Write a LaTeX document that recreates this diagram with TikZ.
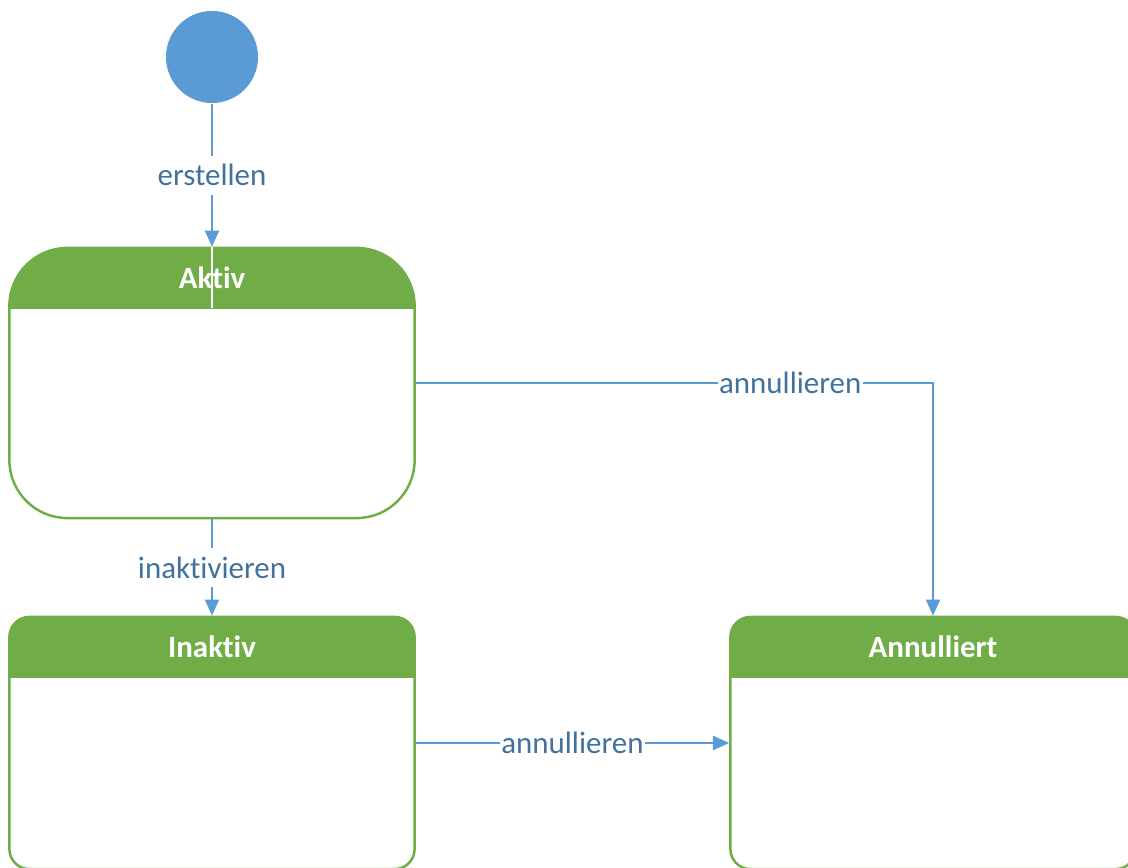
\documentclass[tikz,border=0pt]{standalone}
\usepackage{fontspec}
\setmainfont[Ligatures=NoCommon]{Carlito}
\usetikzlibrary{arrows.meta}
\definecolor{stgreen}{HTML}{70AD47}
\definecolor{lnblue}{HTML}{5B9BD5}
\definecolor{lbltext}{HTML}{41719C}
\tikzset{
  statebox/.style={draw=stgreen, line width=0.7pt, rounded corners=#1,
    minimum width=4.05cm, minimum height=2.7cm, inner sep=0pt,
    path picture={\fill[stgreen, sharp corners] (path picture bounding box.north west)
      rectangle ([yshift=-0.61cm]path picture bounding box.north east);}},
  headtext/.style={text=white, font=\fontsize{8.8}{10.5}\selectfont\bfseries},
  trans/.style={draw=lnblue, line width=0.6pt, -{Triangle[width=4pt,length=4.6pt]}},
  lbl/.style={fill=white, text=lbltext, inner xsep=0.4pt, inner ysep=2.5pt},
}
\begin{document}
\begin{tikzpicture}[x=0.01cm, y=-0.01cm, font=\fontsize{8.8}{10.5}\selectfont]
\useasboundingbox (0,0) rectangle (1128,868);

% start state
\node[circle, fill=lnblue, minimum size=0.92cm, inner sep=0pt] (start) at (212,57) {};

% states
\node[statebox=0.58cm] (aktiv) at (212,383) {};
\node[statebox=0.2cm, minimum height=2.52cm] (inaktiv) at (212,743) {};
\node[statebox=0.2cm, minimum height=2.52cm] (annulliert) at (933,743) {};

\draw[white, line width=0.3pt] (aktiv.north) -- ++(0,61);

\node[headtext] (aktiv-t) at ([yshift=-0.31cm]aktiv.north) {Aktiv};
\node[headtext] (inaktiv-t) at ([yshift=-0.31cm]inaktiv.north) {Inaktiv};
\node[headtext] (annulliert-t) at ([yshift=-0.31cm]annulliert.north) {Annulliert};

% transitions
\draw[trans] (start.south) -- node[lbl] (erstellen) {erstellen} (aktiv.north);
\draw[trans] (aktiv.south) -- node[lbl] (inakt) {inaktivieren} (inaktiv.north);
\draw[trans] (aktiv.east) -| node[lbl, pos=0.362] (ann1) {annullieren} (annulliert.north);
\draw[trans] (inaktiv.east) -- node[lbl] (ann2) {annullieren} (annulliert.west);
\end{tikzpicture}
\end{document}
